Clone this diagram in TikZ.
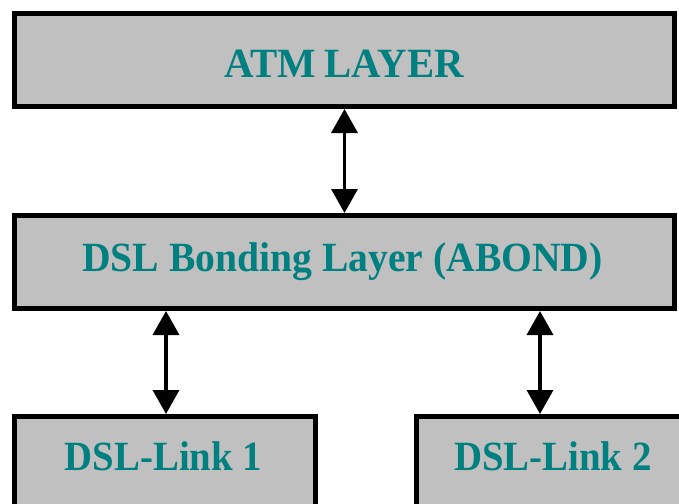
\documentclass[tikz,border=0pt]{standalone}
\usepackage{fontspec}
\setmainfont{Liberation Serif}
\usetikzlibrary{arrows.meta}
\definecolor{boxgray}{RGB}{192,192,192}
\definecolor{tealtext}{RGB}{0,128,128}
\tikzset{
  layerbox/.style={draw=black, fill=boxgray, line width=5pt, inner sep=0pt, rectangle},
  lbl/.style={text=tealtext, font=\bfseries\fontsize{40}{44}\selectfont, inner sep=0pt, anchor=base},
  link/.style={line width=3.5pt, {Triangle[length=24pt,width=26pt]}-{Triangle[length=24pt,width=26pt]}}
}
\begin{document}
\begin{tikzpicture}[x=1pt,y=-1pt]
\useasboundingbox (0,0) rectangle (679,503);
\clip (0,0) rectangle (679,503);
\fill[white] (0,0) rectangle (679,503);
% boxes
\node[layerbox, minimum width=660pt, minimum height=93pt] (atm) at (344.5,60) {};
\node[layerbox, minimum width=660pt, minimum height=93pt] (bond) at (344.5,262) {};
\node[layerbox, minimum width=301pt, minimum height=120pt] (l1) at (165,476.5) {};
\node[layerbox, minimum width=301pt, minimum height=120pt] (l2) at (567,476.5) {};
% labels
\node[lbl] (atmt) at (344,77) {\scalebox{1.02}[1.04]{ATM\hspace{0.2em}LAYER}};
\node[lbl] (bondt) at (342.5,271) {\scalebox{0.99}[1.04]{DSL Bonding Layer (ABOND)}};
\node[lbl] (l1t) at (163.5,470) {\scalebox{0.97}[1.04]{DSL-Link 1}};
\node[lbl] (l2t) at (553,470) {\scalebox{0.97}[1.04]{DSL-Link 2}};
% connectors
\draw[link] (atm.south) -- (bond.north);
\draw[link] (bond.south -| 166,0) -- (l1.north -| 166,0);
\draw[link] (bond.south -| 540,0) -- (l2.north -| 540,0);
\end{tikzpicture}
\end{document}
